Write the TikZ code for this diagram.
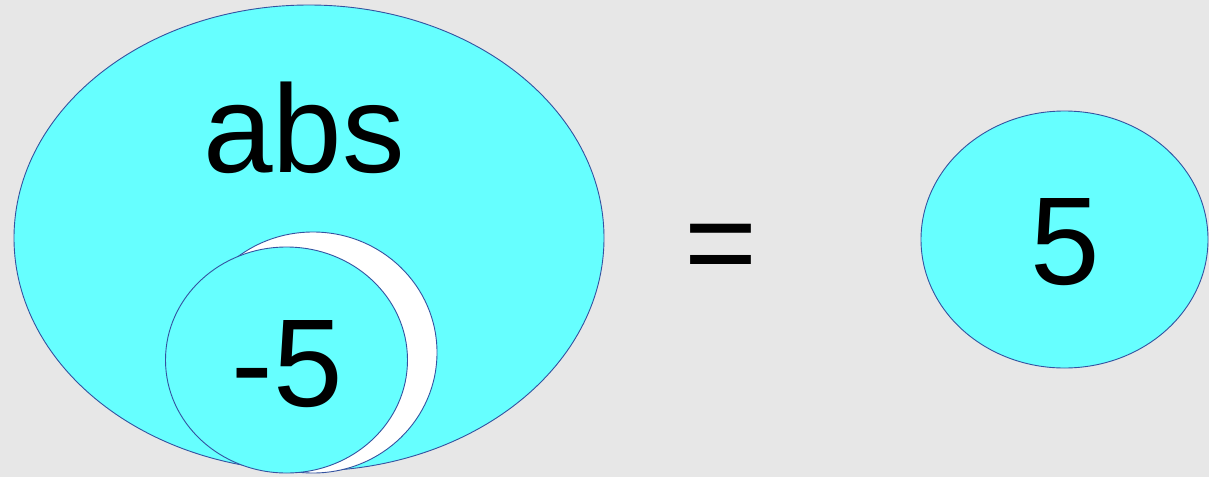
\documentclass[tikz,border=0pt]{standalone}
\usepackage{fontspec}
\setmainfont{Liberation Sans}
\usetikzlibrary{shapes.geometric}
\definecolor{bgray}{RGB}{231,231,231}
\definecolor{cyanfill}{RGB}{102,255,255}
\definecolor{edgeblue}{RGB}{52,82,160}
\tikzset{
  blob/.style={ellipse, draw=edgeblue, line width=0.9pt, fill=cyanfill, inner sep=0pt},
  hole/.style={ellipse, draw=edgeblue, line width=0.9pt, fill=white, inner sep=0pt},
  bigtext/.style={font=\fontsize{125}{130}\selectfont, inner sep=0pt, anchor=base}
}
\begin{document}
\begin{tikzpicture}[x=1pt,y=-1pt]
\fill[bgray] (0,0) rectangle (1209,477);
\useasboundingbox (0,0) rectangle (1209,477);
\node[blob, minimum width=590pt, minimum height=466pt] (absblob) at (309,238) {};
\node[hole, minimum width=248pt, minimum height=241pt] (shadow) at (313,352.5) {};
\node[blob, minimum width=242pt, minimum height=226pt] (argblob) at (286.5,360) {};
\node[blob, minimum width=287pt, minimum height=257pt] (resblob) at (1064.5,239.5) {};
\node[bigtext] (abstext) at (304,172) {abs};
\node[bigtext] (argtext) at (287,406) {-5};
\node[bigtext] (eqtext) at (720.5,285) {=};
\node[bigtext] (restext) at (1065.5,284) {5};
\end{tikzpicture}
\end{document}
